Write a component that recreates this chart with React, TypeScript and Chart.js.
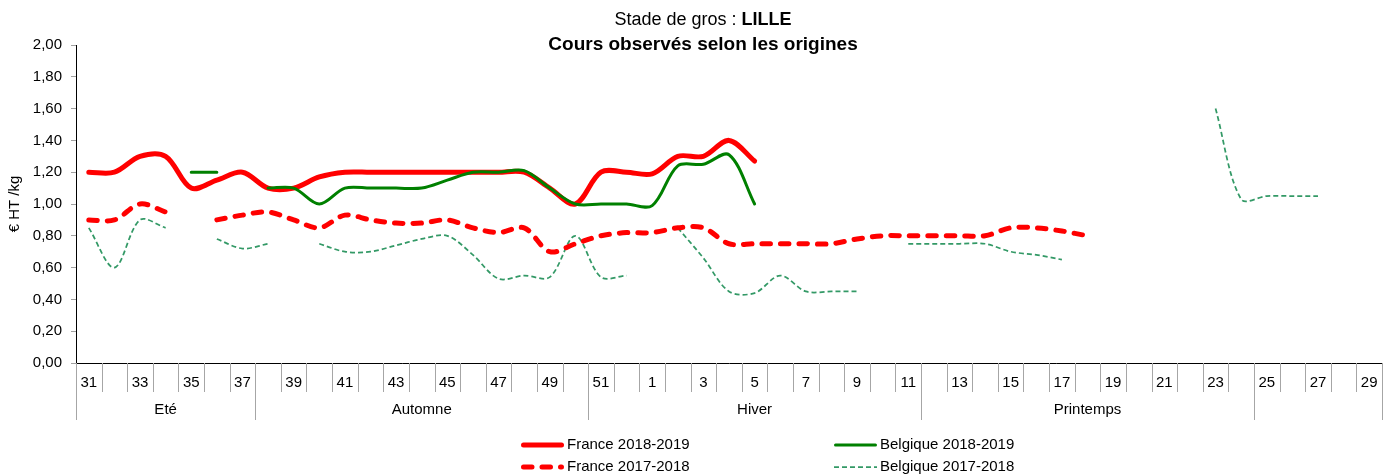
import React, { useEffect, useRef } from 'react';
import { Chart, registerables } from 'chart.js';

Chart.register(...registerables);

const FONT = '"Liberation Sans", Arial, sans-serif';

// ---- data ----
const weeks = [
  '31', '32', '33', '34', '35', '36', '37', '38', '39', '40', '41', '42', '43', '44', '45', '46', '47', '48', '49', '50', '51', '52',
  '1', '2', '3', '4', '5', '6', '7', '8', '9', '10', '11', '12', '13', '14', '15', '16', '17', '18', '19', '20', '21', '22', '23', '24', '25', '26', '27', '28', '29',
];

const seasonNames = ['Eté', 'Automne', 'Hiver', 'Printemps', ''];
const seasonLengths = [7, 13, 13, 13, 5];

const titleLine1 = 'Stade de gros : ';
const titleCity = 'LILLE';
const titleLine2 = 'Cours observés selon les origines';
const yAxisTitle = '€ HT /kg';

const seriesLabels = ['France 2018-2019', 'Belgique 2018-2019', 'France 2017-2018', 'Belgique 2017-2018'];

// weeks 31..52
const franceCurA = [1.20, 1.20, 1.30, 1.30, 1.10, 1.15, 1.20, 1.10, 1.10, 1.17, 1.20, 1.20, 1.20, 1.20, 1.20, 1.20, 1.20, 1.20, 1.10, 1.00, 1.20, 1.20];
// weeks 1..29
const franceCurB = [1.19, 1.30, 1.30, 1.40, 1.27, null, null, null, null, null, null, null, null, null, null, null, null, null, null, null, null, null, null, null, null, null, null, null, null];

const belgCurA = [null, null, null, null, 1.20, 1.20, null, 1.10, 1.10, 1.00, 1.10, 1.10, 1.10, 1.10, 1.15, 1.20, 1.20, 1.21, 1.10, 1.00, 1.00, 1.00];
const belgCurB = [0.99, 1.24, 1.25, 1.31, 1.00, null, null, null, null, null, null, null, null, null, null, null, null, null, null, null, null, null, null, null, null, null, null, null, null];

const franceOldA = [0.90, 0.90, 1.00, 0.95, null, 0.90, 0.93, 0.95, 0.90, 0.85, 0.93, 0.90, 0.88, 0.88, 0.90, 0.85, 0.82, 0.85, 0.70, 0.75, 0.80, 0.82];
const franceOldB = [0.82, 0.85, 0.85, 0.75, 0.75, 0.75, 0.75, 0.75, 0.78, 0.80, 0.80, 0.80, 0.80, 0.80, 0.85, 0.85, 0.83, 0.80, null, null, null, null, null, null, null, null, null, null, null];

const belgOldA = [0.85, 0.60, 0.90, 0.85, null, 0.78, 0.72, 0.75, null, 0.75, 0.70, 0.70, 0.74, 0.78, 0.80, 0.68, 0.53, 0.55, 0.54, 0.80, 0.54, 0.55];
const belgOldB = [null, 0.85, 0.66, 0.45, 0.44, 0.55, 0.45, 0.45, 0.45, null, 0.75, 0.75, 0.75, 0.75, 0.70, 0.68, 0.65, null, null, null, null, null, 1.60, 1.03, 1.05, 1.05, 1.05, null, null];

const franceCur = [...franceCurA, ...franceCurB];
const belgCur = [...belgCurA, ...belgCurB];
const franceOld = [...franceOldA, ...franceOldB];
const belgOld = [...belgOldA, ...belgOldB];

const decorPlugin = {
  id: 'decor',
  afterDraw(chart: any) {
    const ctx = chart.ctx as CanvasRenderingContext2D;
    const xs = chart.scales.x;
    const area = chart.chartArea;
    const step = xs.getPixelForValue(1) - xs.getPixelForValue(0);
    const x0 = xs.getPixelForValue(0) - step / 2;
    const axisY = area.bottom;
    ctx.save();

    // week separators (first row)
    ctx.strokeStyle = '#a6a6a6';
    ctx.lineWidth = 1;
    ctx.beginPath();
    for (let i = 0; i <= weeks.length; i++) {
      const x = Math.round(x0 + i * step) + 0.5;
      ctx.moveTo(x, axisY);
      ctx.lineTo(x, axisY + 29);
    }
    ctx.stroke();

    // season separators and labels
    let start = 0;
    const bounds = [0];
    seasonLengths.forEach((n) => {
      start += n;
      bounds.push(start);
    });
    ctx.beginPath();
    bounds.forEach((b) => {
      const x = Math.round(x0 + b * step) + 0.5;
      ctx.moveTo(x, axisY);
      ctx.lineTo(x, axisY + 57);
    });
    ctx.stroke();

    ctx.fillStyle = '#000';
    ctx.font = `15px ${FONT}`;
    ctx.textAlign = 'center';
    ctx.textBaseline = 'middle';
    seasonNames.forEach((name, k) => {
      const xa = x0 + bounds[k] * step;
      const xb = x0 + bounds[k + 1] * step;
      if (name) ctx.fillText(name, (xa + xb) / 2, axisY + 47);
    });

    // title
    ctx.textBaseline = 'alphabetic';
    ctx.textAlign = 'left';
    const cx = 703;
    ctx.font = `18px ${FONT}`;
    const w1 = ctx.measureText(titleLine1).width;
    ctx.font = `bold 18px ${FONT}`;
    const w2 = ctx.measureText(titleCity).width;
    const tx = cx - (w1 + w2) / 2;
    ctx.font = `18px ${FONT}`;
    ctx.fillText(titleLine1, tx, 25);
    ctx.font = `bold 18px ${FONT}`;
    ctx.fillText(titleCity, tx + w1, 25);
    ctx.font = `bold 19px ${FONT}`;
    ctx.textAlign = 'center';
    ctx.fillText(titleLine2, cx, 50);

    // legend
    const colX = [521, 834];
    const rowY = [445, 467];
    chart.data.datasets.forEach((ds: any, i: number) => {
      const col = i % 2;
      const row = Math.floor(i / 2);
      const y = rowY[row];
      const xa = colX[col];
      ctx.save();
      ctx.strokeStyle = ds.borderColor;
      ctx.lineWidth = ds.borderWidth;
      ctx.setLineDash(ds.borderDash || []);
      ctx.lineCap = ds.borderCapStyle || 'butt';
      const inset = ds.borderCapStyle === 'round' ? ds.borderWidth / 2 : 0;
      ctx.beginPath();
      ctx.moveTo(xa + inset, y);
      ctx.lineTo(xa + 43 - inset, y);
      ctx.stroke();
      ctx.restore();
      ctx.fillStyle = '#000';
      ctx.font = `15px ${FONT}`;
      ctx.textAlign = 'left';
      ctx.textBaseline = 'middle';
      ctx.fillText(ds.label, xa + 46, y);
    });

    ctx.restore();
  },
};

export default function App() {
  const ref = useRef<HTMLCanvasElement>(null);

  useEffect(() => {
    if (!ref.current) return;
    const tension = 0.33;
    const chart = new Chart(ref.current, {
      type: 'line',
      data: {
        labels: weeks,
        datasets: [
          {
            label: seriesLabels[0],
            data: franceCur,
            borderColor: '#FF0000',
            backgroundColor: '#FF0000',
            borderWidth: 5,
            borderCapStyle: 'round',
            borderJoinStyle: 'round',
            pointRadius: 0,
            tension,
            order: 1,
          },
          {
            label: seriesLabels[1],
            data: belgCur,
            borderColor: '#008000',
            backgroundColor: '#008000',
            borderWidth: 3,
            borderCapStyle: 'round',
            borderJoinStyle: 'round',
            pointRadius: 0,
            tension,
            order: 0,
          },
          {
            label: seriesLabels[2],
            data: franceOld,
            borderColor: '#FF0000',
            backgroundColor: '#FF0000',
            borderWidth: 5,
            borderDash: [8.5, 10],
            borderCapStyle: 'round',
            borderJoinStyle: 'round',
            pointRadius: 0,
            tension,
            order: 2,
          },
          {
            label: seriesLabels[3],
            data: belgOld,
            borderColor: '#339966',
            backgroundColor: '#339966',
            borderWidth: 1.75,
            borderDash: [5, 3],
            borderCapStyle: 'butt',
            pointRadius: 0,
            tension,
            order: 3,
          },
        ] as any,
      },
      options: {
        responsive: false,
        animation: false,
        devicePixelRatio: 1,
        layout: { padding: { top: 45, right: 18, left: 0, bottom: 0 } },
        plugins: {
          legend: { display: false },
          title: { display: false },
          tooltip: { enabled: false },
        },
        scales: {
          x: {
            type: 'category',
            offset: true,
            grid: { display: true, drawOnChartArea: false, drawTicks: false, color: 'rgba(0,0,0,0)' },
            border: { display: true, color: '#000', width: 1 },
            ticks: {
              autoSkip: false,
              maxRotation: 0,
              minRotation: 0,
              padding: 11,
              color: '#000',
              font: { family: FONT, size: 15 },
              callback: (_v: any, i: number) => (i % 2 === 0 ? weeks[i] : ''),
            },
            afterFit: (s: any) => {
              s.height = 113;
            },
          },
          y: {
            min: 0,
            max: 2,
            grid: { drawOnChartArea: false, drawTicks: true, tickLength: 5, color: '#a0a0a0' },
            border: { display: true, color: '#000', width: 1 },
            ticks: {
              stepSize: 0.2,
              padding: 9,
              color: '#000',
              font: { family: FONT, size: 15 },
              callback: (v: any) => Number(v).toFixed(2).replace('.', ','),
            },
            title: {
              display: true,
              text: yAxisTitle,
              color: '#000',
              font: { family: FONT, size: 15 },
              padding: { top: 6, bottom: 0 },
            },
            afterFit: (s: any) => {
              s.width = 76;
            },
          },
        },
      } as any,
      plugins: [decorPlugin],
    });
    return () => chart.destroy();
  }, []);

  return (
    <div style={{ position: 'absolute', left: 0, top: 0, width: 1400, height: 476, background: '#fff' }}>
      <canvas ref={ref} width={1400} height={476} style={{ display: 'block' }} />
    </div>
  );
}
